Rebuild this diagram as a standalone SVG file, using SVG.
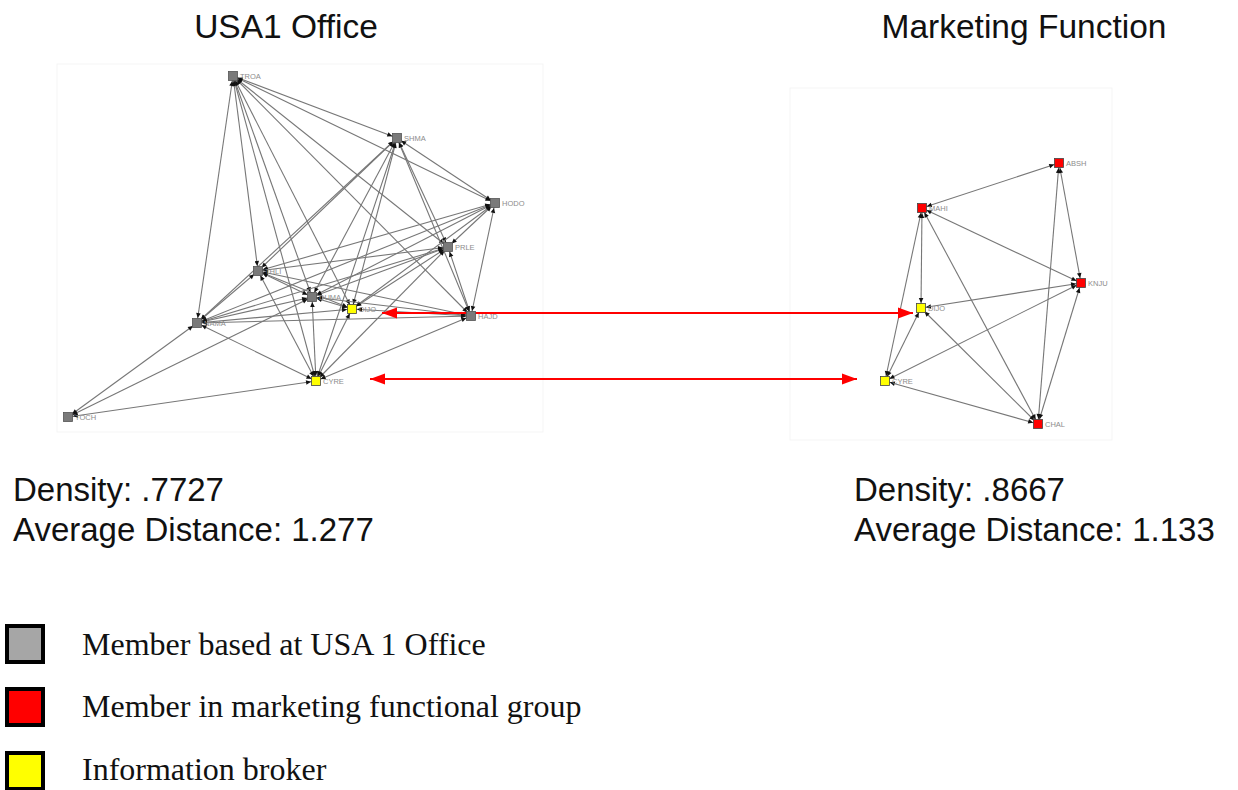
<svg xmlns="http://www.w3.org/2000/svg" width="1238" height="790" viewBox="0 0 1238 790">
  <defs>
    <style>
      .title { font-family: "Liberation Sans", Arial, sans-serif; font-size: 33.5px; fill: #111; }
      .stat { font-family: "Liberation Sans", Arial, sans-serif; font-size: 33px; fill: #111; }
      .legend { font-family: "Liberation Serif", "Times New Roman", serif; font-size: 32px; fill: #111; }
      .lbl { font-family: "Liberation Sans", Arial, sans-serif; font-size: 7.5px; fill: #8c8c8c; }
      .edge { stroke: #777; stroke-width: 1.1; fill: none; marker-start: url(#tip); marker-end: url(#tip); }
      .frame { fill: none; stroke: #f5f5f5; stroke-width: 1; }
      .grey { fill: #7a7a7a; stroke: #555; stroke-width: 0.8; }
      .red { fill: #ff0000; stroke: #444; stroke-width: 0.8; }
      .yellow { fill: #ffff00; stroke: #444; stroke-width: 0.8; }
      .link { stroke: #ff0000; stroke-width: 2; fill: none; marker-start: url(#redtip); marker-end: url(#redtip); }
      .key { stroke: #000; stroke-width: 4; }
    </style>
    <marker id="tip" markerUnits="userSpaceOnUse" markerWidth="12" markerHeight="8" viewBox="0 -4 12 8" refX="12" refY="0" orient="auto-start-reverse">
      <path d="M2,-2.3 L7,0 L2,2.3 z" fill="#111"/>
    </marker>
    <marker id="redtip" markerUnits="userSpaceOnUse" markerWidth="16" markerHeight="12" viewBox="0 -6 16 12" refX="15" refY="0" orient="auto-start-reverse">
      <path d="M0,-5.5 L15,0 L0,5.5 z" fill="#ff0000"/>
    </marker>
  </defs>

  <rect width="1238" height="790" fill="#ffffff"/>

  <!-- faint frames of the two network plots -->
  <rect class="frame" x="57" y="64" width="486" height="368"/>
  <rect class="frame" x="790" y="88" width="322" height="352"/>

  <!-- titles -->
  <text class="title" x="286" y="38" text-anchor="middle">USA1 Office</text>
  <text class="title" x="1024" y="38" text-anchor="middle">Marketing Function</text>

  <!-- connectors -->
  <g id="connectors">
    <g id="usa1-ties">
      <!-- TROA -->
      <line class="edge" x1="233" y1="76" x2="397" y2="138"/>
      <line class="edge" x1="233" y1="76" x2="495" y2="203"/>
      <line class="edge" x1="233" y1="76" x2="448" y2="247"/>
      <line class="edge" x1="233" y1="76" x2="258" y2="271"/>
      <line class="edge" x1="233" y1="76" x2="197" y2="323"/>
      <line class="edge" x1="233" y1="76" x2="312" y2="297"/>
      <line class="edge" x1="233" y1="76" x2="352" y2="309"/>
      <line class="edge" x1="233" y1="76" x2="316" y2="381"/>
      <line class="edge" x1="233" y1="76" x2="471" y2="316"/>
      <!-- SHMA -->
      <line class="edge" x1="397" y1="138" x2="495" y2="203"/>
      <line class="edge" x1="397" y1="138" x2="448" y2="247"/>
      <line class="edge" x1="397" y1="138" x2="471" y2="316"/>
      <line class="edge" x1="397" y1="138" x2="352" y2="309"/>
      <line class="edge" x1="397" y1="138" x2="316" y2="381"/>
      <line class="edge" x1="397" y1="138" x2="312" y2="297"/>
      <line class="edge" x1="397" y1="138" x2="258" y2="271"/>
      <line class="edge" x1="397" y1="138" x2="197" y2="323"/>
      <!-- HODO -->
      <line class="edge" x1="495" y1="203" x2="448" y2="247"/>
      <line class="edge" x1="495" y1="203" x2="471" y2="316"/>
      <line class="edge" x1="495" y1="203" x2="258" y2="271"/>
      <line class="edge" x1="495" y1="203" x2="312" y2="297"/>
      <line class="edge" x1="495" y1="203" x2="352" y2="309"/>
      <line class="edge" x1="495" y1="203" x2="197" y2="323"/>
      <!-- PRLE -->
      <line class="edge" x1="448" y1="247" x2="258" y2="271"/>
      <line class="edge" x1="448" y1="247" x2="312" y2="297"/>
      <line class="edge" x1="448" y1="247" x2="352" y2="309"/>
      <line class="edge" x1="448" y1="247" x2="197" y2="323"/>
      <line class="edge" x1="448" y1="247" x2="316" y2="381"/>
      <line class="edge" x1="448" y1="247" x2="471" y2="316"/>
      <!-- THLI -->
      <line class="edge" x1="258" y1="271" x2="312" y2="297"/>
      <line class="edge" x1="258" y1="271" x2="352" y2="309"/>
      <line class="edge" x1="258" y1="271" x2="197" y2="323"/>
      <line class="edge" x1="258" y1="271" x2="316" y2="381"/>
      <line class="edge" x1="258" y1="271" x2="471" y2="316"/>
      <!-- DUMA -->
      <line class="edge" x1="312" y1="297" x2="352" y2="309"/>
      <line class="edge" x1="312" y1="297" x2="197" y2="323"/>
      <line class="edge" x1="312" y1="297" x2="316" y2="381"/>
      <line class="edge" x1="312" y1="297" x2="471" y2="316"/>
      <!-- DIJO -->
      <line class="edge" x1="352" y1="309" x2="197" y2="323"/>
      <line class="edge" x1="352" y1="309" x2="316" y2="381"/>
      <line class="edge" x1="352" y1="309" x2="471" y2="316"/>
      <!-- NAMA -->
      <line class="edge" x1="197" y1="323" x2="316" y2="381"/>
      <line class="edge" x1="197" y1="323" x2="68" y2="417"/>
      <line class="edge" x1="197" y1="323" x2="471" y2="316"/>
      <!-- TOCH -->
      <line class="edge" x1="68" y1="417" x2="316" y2="381"/>
      <line class="edge" x1="68" y1="417" x2="312" y2="297"/>
      <!-- CYRE -->
      <line class="edge" x1="316" y1="381" x2="471" y2="316"/>
    </g>
    <g id="marketing-ties">
      <line class="edge" x1="922" y1="208" x2="1059" y2="163"/>
      <line class="edge" x1="922" y1="208" x2="1081" y2="283"/>
      <line class="edge" x1="922" y1="208" x2="921" y2="308"/>
      <line class="edge" x1="922" y1="208" x2="885" y2="381"/>
      <line class="edge" x1="922" y1="208" x2="1038" y2="424"/>
      <line class="edge" x1="1059" y1="163" x2="1081" y2="283"/>
      <line class="edge" x1="1059" y1="163" x2="1038" y2="424"/>
      <line class="edge" x1="1081" y1="283" x2="921" y2="308"/>
      <line class="edge" x1="1081" y1="283" x2="885" y2="381"/>
      <line class="edge" x1="1081" y1="283" x2="1038" y2="424"/>
      <line class="edge" x1="921" y1="308" x2="885" y2="381"/>
      <line class="edge" x1="921" y1="308" x2="1038" y2="424"/>
      <line class="edge" x1="885" y1="381" x2="1038" y2="424"/>
    </g>
    <!-- brokers present in both networks -->
    <g id="broker-links">
      <line class="link" x1="382" y1="313" x2="913" y2="313"/>
      <line class="link" x1="370" y1="379" x2="857" y2="379"/>
    </g>
  </g>

  <!-- USA1 office nodes -->
  <g id="usa1-TROA"><rect class="grey" x="228.5" y="71.5" width="9" height="9"/><text class="lbl" x="240" y="79">TROA</text></g>
  <g id="usa1-SHMA"><rect class="grey" x="392.5" y="133.5" width="9" height="9"/><text class="lbl" x="404" y="141">SHMA</text></g>
  <g id="usa1-HODO"><rect class="grey" x="490.5" y="198.5" width="9" height="9"/><text class="lbl" x="502" y="206">HODO</text></g>
  <g id="usa1-PRLE"><rect class="grey" x="443.5" y="242.5" width="9" height="9"/><text class="lbl" x="455" y="250">PRLE</text></g>
  <g id="usa1-THLI"><rect class="grey" x="253.5" y="266.5" width="9" height="9"/><text class="lbl" x="265" y="274">THLI</text></g>
  <g id="usa1-DUMA"><rect class="grey" x="307.5" y="292.5" width="9" height="9"/><text class="lbl" x="319" y="300">DUMA</text></g>
  <g id="usa1-DIJO"><rect class="yellow" x="347.5" y="304.5" width="9" height="9"/><text class="lbl" x="359" y="312">DIJO</text></g>
  <g id="usa1-NAMA"><rect class="grey" x="192.5" y="318.5" width="9" height="9"/><text class="lbl" x="204" y="326">NAMA</text></g>
  <g id="usa1-HAJD"><rect class="grey" x="466.5" y="311.5" width="9" height="9"/><text class="lbl" x="478" y="319">HAJD</text></g>
  <g id="usa1-CYRE"><rect class="yellow" x="311.5" y="376.5" width="9" height="9"/><text class="lbl" x="323" y="384">CYRE</text></g>
  <g id="usa1-TOCH"><rect class="grey" x="63.5" y="412.5" width="9" height="9"/><text class="lbl" x="75" y="420">TOCH</text></g>

  <!-- marketing function nodes -->
  <g id="mkt-ABSH"><rect class="red" x="1054.5" y="158.5" width="9" height="9"/><text class="lbl" x="1066" y="166">ABSH</text></g>
  <g id="mkt-MAHI"><rect class="red" x="917.5" y="203.5" width="9" height="9"/><text class="lbl" x="929" y="211">MAHI</text></g>
  <g id="mkt-KNJU"><rect class="red" x="1076.5" y="278.5" width="9" height="9"/><text class="lbl" x="1088" y="286">KNJU</text></g>
  <g id="mkt-DIJO"><rect class="yellow" x="916.5" y="303.5" width="9" height="9"/><text class="lbl" x="928" y="311">DIJO</text></g>
  <g id="mkt-CYRE"><rect class="yellow" x="880.5" y="376.5" width="9" height="9"/><text class="lbl" x="892" y="384">CYRE</text></g>
  <g id="mkt-CHAL"><rect class="red" x="1033.5" y="419.5" width="9" height="9"/><text class="lbl" x="1045" y="427">CHAL</text></g>

  <!-- network statistics -->
  <g id="stats-usa1">
    <text class="stat" x="13" y="501">Density: .7727</text>
    <text class="stat" x="13" y="541">Average Distance: 1.277</text>
  </g>
  <g id="stats-marketing">
    <text class="stat" x="854" y="501">Density: .8667</text>
    <text class="stat" x="854" y="541">Average Distance: 1.133</text>
  </g>

  <!-- legend -->
  <g id="legend">
    <rect class="key" x="7" y="626" width="36" height="36" fill="#a6a6a6"/>
    <text class="legend" x="82" y="655">Member based at USA 1 Office</text>
    <rect class="key" x="7" y="689" width="36" height="36" fill="#ff0000"/>
    <text class="legend" x="82" y="717">Member in marketing functional group</text>
    <rect class="key" x="7" y="753" width="36" height="36" fill="#ffff00"/>
    <text class="legend" x="82" y="780">Information broker</text>
  </g>
</svg>
